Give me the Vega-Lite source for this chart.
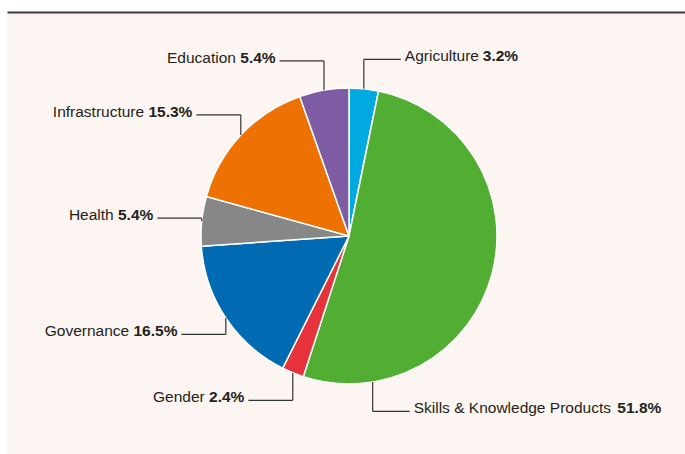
{
  "$schema": "https://vega.github.io/schema/vega-lite/v6.json",
  "width": 678,
  "height": 442,
  "padding": {"left": 7, "top": 12, "right": 0, "bottom": 0},
  "autosize": {"type": "none"},
  "background": "#ffffff",
  "config": {"view": {"fill": "#fdf5f2", "stroke": null}},
  "data": {"values": [
    {"sector": "Agriculture", "share": 3.2},
    {"sector": "Skills & Knowledge Products", "share": 51.8},
    {"sector": "Gender", "share": 2.4},
    {"sector": "Governance", "share": 16.5},
    {"sector": "Health", "share": 5.4},
    {"sector": "Infrastructure", "share": 15.3},
    {"sector": "Education", "share": 5.4}
  ]},
  "transform": [
    {"window": [{"op": "row_number", "as": "idx"}]},
    {"joinaggregate": [{"op": "sum", "field": "share", "as": "tot"}]},
    {"window": [{"op": "sum", "field": "share", "as": "cum"}], "sort": [{"field": "idx"}], "frame": [null, 0]},
    {"calculate": "2*PI*(datum.cum - datum.share/2)/datum.tot", "as": "am"},
    {"calculate": "sin(datum.am) > 0.3 ? (cos(datum.am) < 0 ? PI - asin(0.16) : asin(0.16)) : datum.am", "as": "a"},
    {"calculate": "sin(datum.a)", "as": "ex"},
    {"calculate": "cos(datum.a)", "as": "ey"},
    {"calculate": "1.2*datum.ey", "as": "ly"},
    {"calculate": "datum.ex + (datum.ex < 0 ? -0.3 : 0.25)", "as": "lx"},
    {"calculate": "format(datum.share, '.1f') + '%'", "as": "pct"},
    {"calculate": "((length(datum.pct)-2)*556 + 1167)*15.5/1000", "as": "pw"},
    {"calculate": "(556*length(datum.sector) - 334*length(replace(datum.sector, regexp('[^ijl]','g'), '')) - 278*length(replace(datum.sector, regexp('[^ft ]','g'), '')) - 223*length(replace(datum.sector, regexp('[^r]','g'), '')) - 56*length(replace(datum.sector, regexp('[^cksvxyz]','g'), '')) + 166*length(replace(datum.sector, regexp('[^mwA-Z&]','g'), '')))*15.5/1000", "as": "nw"}
  ],
  "layer": [
    {
      "mark": {"type": "arc", "outerRadius": 148, "stroke": "#ffffff", "strokeWidth": 1.5},
      "encoding": {
        "x": {"datum": 0, "type": "quantitative", "scale": {"domain": [-2.3108, 2.2703], "nice": false, "zero": false}, "axis": {"orient": "top", "labels": false, "ticks": false, "grid": false, "domainColor": "#3a3a3a", "domainWidth": 2, "title": null}},
        "y": {"datum": 0, "type": "quantitative", "scale": {"domain": [-1.4730, 1.5135], "nice": false, "zero": false}, "axis": null},
        "theta": {"field": "share", "type": "quantitative", "stack": true},
        "order": {"field": "idx", "type": "quantitative"},
        "color": {"field": "sector", "type": "nominal", "legend": null,
          "scale": {"domain": ["Agriculture", "Skills & Knowledge Products", "Gender", "Governance", "Health", "Infrastructure", "Education"],
                    "range": ["#00a9e0", "#52ae32", "#e5323b", "#006ab3", "#878787", "#ee7203", "#7e5ca4"]}}
      }
    },
    {
      "mark": {"type": "rule", "color": "#333333", "strokeWidth": 1.2},
      "encoding": {
        "x": {"field": "ex", "type": "quantitative", "scale": {"domain": [-2.3108, 2.2703], "nice": false, "zero": false}, "axis": {"orient": "top", "labels": false, "ticks": false, "grid": false, "domainColor": "#3a3a3a", "domainWidth": 2, "title": null}},
        "y": {"field": "ey", "type": "quantitative", "scale": {"domain": [-1.4730, 1.5135], "nice": false, "zero": false}, "axis": null},
        "y2": {"field": "ly"}
      }
    },
    {
      "mark": {"type": "rule", "color": "#333333", "strokeWidth": 1.2},
      "encoding": {
        "x": {"field": "ex", "type": "quantitative", "scale": {"domain": [-2.3108, 2.2703], "nice": false, "zero": false}, "axis": {"orient": "top", "labels": false, "ticks": false, "grid": false, "domainColor": "#3a3a3a", "domainWidth": 2, "title": null}},
        "x2": {"field": "lx"},
        "y": {"field": "ly", "type": "quantitative", "scale": {"domain": [-1.4730, 1.5135], "nice": false, "zero": false}, "axis": null}
      }
    },
    {
      "transform": [{"filter": "datum.lx < 0"}, {"calculate": "datum.lx - (4 + datum.pw + 4.3)/148", "as": "nx"}],
      "mark": {"type": "text", "align": "right", "baseline": "alphabetic", "dy": 2, "font": "Liberation Sans", "fontSize": 15.5, "color": "#231f20"},
      "encoding": {
        "x": {"field": "nx", "type": "quantitative", "scale": {"domain": [-2.3108, 2.2703], "nice": false, "zero": false}, "axis": {"orient": "top", "labels": false, "ticks": false, "grid": false, "domainColor": "#3a3a3a", "domainWidth": 2, "title": null}},
        "y": {"field": "ly", "type": "quantitative", "scale": {"domain": [-1.4730, 1.5135], "nice": false, "zero": false}, "axis": null},
        "text": {"field": "sector", "type": "nominal"}
      }
    },
    {
      "transform": [{"filter": "datum.lx < 0"}, {"calculate": "datum.lx - 4/148", "as": "px"}],
      "mark": {"type": "text", "align": "right", "baseline": "alphabetic", "dy": 2, "font": "Liberation Sans", "fontSize": 15.5, "fontWeight": "bold", "color": "#231f20"},
      "encoding": {
        "x": {"field": "px", "type": "quantitative", "scale": {"domain": [-2.3108, 2.2703], "nice": false, "zero": false}, "axis": {"orient": "top", "labels": false, "ticks": false, "grid": false, "domainColor": "#3a3a3a", "domainWidth": 2, "title": null}},
        "y": {"field": "ly", "type": "quantitative", "scale": {"domain": [-1.4730, 1.5135], "nice": false, "zero": false}, "axis": null},
        "text": {"field": "pct", "type": "nominal"}
      }
    },
    {
      "transform": [{"filter": "datum.lx > 0"}, {"calculate": "datum.lx + 4/148", "as": "nx"}],
      "mark": {"type": "text", "align": "left", "baseline": "alphabetic", "dy": 2, "font": "Liberation Sans", "fontSize": 15.5, "color": "#231f20"},
      "encoding": {
        "x": {"field": "nx", "type": "quantitative", "scale": {"domain": [-2.3108, 2.2703], "nice": false, "zero": false}, "axis": {"orient": "top", "labels": false, "ticks": false, "grid": false, "domainColor": "#3a3a3a", "domainWidth": 2, "title": null}},
        "y": {"field": "ly", "type": "quantitative", "scale": {"domain": [-1.4730, 1.5135], "nice": false, "zero": false}, "axis": null},
        "text": {"field": "sector", "type": "nominal"}
      }
    },
    {
      "transform": [{"filter": "datum.lx > 0"}, {"calculate": "datum.lx + (4 + datum.nw + 3)/148", "as": "px"}],
      "mark": {"type": "text", "align": "left", "baseline": "alphabetic", "dy": 2, "font": "Liberation Sans", "fontSize": 15.5, "fontWeight": "bold", "color": "#231f20"},
      "encoding": {
        "x": {"field": "px", "type": "quantitative", "scale": {"domain": [-2.3108, 2.2703], "nice": false, "zero": false}, "axis": {"orient": "top", "labels": false, "ticks": false, "grid": false, "domainColor": "#3a3a3a", "domainWidth": 2, "title": null}},
        "y": {"field": "ly", "type": "quantitative", "scale": {"domain": [-1.4730, 1.5135], "nice": false, "zero": false}, "axis": null},
        "text": {"field": "pct", "type": "nominal"}
      }
    }
  ]
}
